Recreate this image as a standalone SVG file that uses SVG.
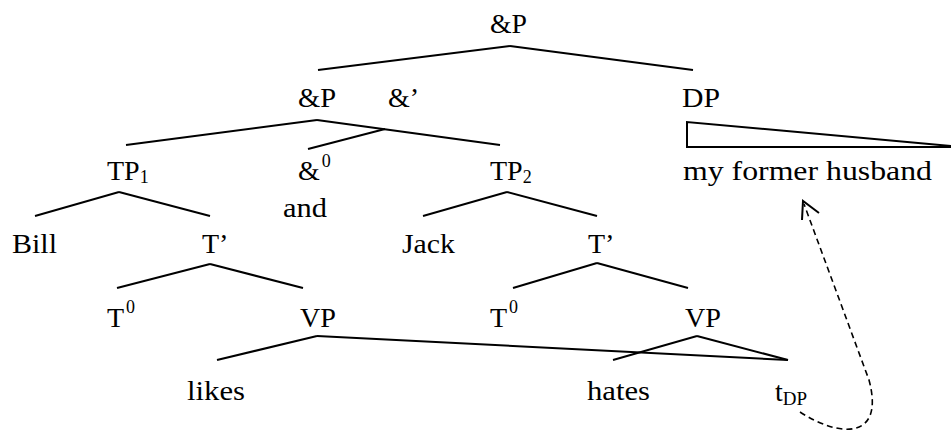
<svg xmlns="http://www.w3.org/2000/svg" width="951" height="433" viewBox="0 0 951 433">
<style>
.t text{font-family:'Liberation Serif','Times New Roman',Times,'Nimbus Roman','Nimbus Roman No9 L','Noto Serif','DejaVu Serif',FreeSerif,serif;font-size:28px;fill:#000}
.s{font-size:18px}
.e line,.e polyline,.e polygon{stroke:#000;stroke-width:2;fill:none}
.mv{stroke:#000;stroke-width:1.6;fill:none;stroke-dasharray:6,4}
.ah{stroke:#000;stroke-width:1.8;fill:none}
</style>
<rect width="951" height="433" fill="#fff"/>
<g id="edges" class="e">
<line x1="510" y1="46" x2="318" y2="70"/>
<line x1="510" y1="46" x2="693" y2="70"/>
<line x1="317" y1="120" x2="126" y2="145"/>
<line x1="317" y1="120" x2="500" y2="145"/>
<line x1="385" y1="129" x2="308" y2="149"/>
<line x1="119" y1="192" x2="35" y2="216"/>
<line x1="119" y1="192" x2="210" y2="216"/>
<line x1="507" y1="192" x2="423" y2="216"/>
<line x1="507" y1="192" x2="597" y2="216"/>
<line x1="210" y1="264" x2="117" y2="288"/>
<line x1="210" y1="264" x2="303" y2="288"/>
<line x1="597" y1="263" x2="513" y2="288"/>
<line x1="597" y1="263" x2="688" y2="288"/>
<line x1="317" y1="336" x2="217" y2="360"/>
<line x1="317" y1="336" x2="788" y2="360"/>
<line x1="697" y1="336" x2="613" y2="360"/>
<line x1="697" y1="336" x2="788" y2="360"/>
<polygon points="687,122 687,147 962,147"/>
<path class="mv" d="M800,412 C840,438 885,440 869,380 L804,204"/>
<polyline class="ah" points="802,220 803,201 819,213"/>
</g>
<g class="t">
<g id="n_andP_top"><text x="490" y="33" textLength="37" lengthAdjust="spacingAndGlyphs">&amp;P</text></g>
<g id="n_andP"><text x="298" y="107" textLength="38" lengthAdjust="spacingAndGlyphs">&amp;P</text></g>
<g id="n_andbar"><text x="388" y="107">&amp;’</text></g>
<g id="n_DP"><text x="682" y="107" textLength="38" lengthAdjust="spacingAndGlyphs">DP</text></g>
<g id="n_TP1"><text x="107" y="180">TP<tspan class="s" dy="3">1</tspan></text></g>
<g id="n_and0"><text x="298" y="180">&amp;<tspan class="s" dx="2" dy="-13">0</tspan></text><text x="283" y="217" textLength="44" lengthAdjust="spacingAndGlyphs">and</text></g>
<g id="n_TP2"><text x="490" y="180">TP<tspan class="s" dy="3">2</tspan></text></g>
<g id="n_mfh"><text x="683" y="180" textLength="249" lengthAdjust="spacingAndGlyphs">my former husband</text></g>
<g id="n_Bill"><text x="12" y="253" textLength="45" lengthAdjust="spacingAndGlyphs">Bill</text></g>
<g id="n_Tbar1"><text x="202" y="253">T’</text></g>
<g id="n_Jack"><text x="402" y="253" textLength="53" lengthAdjust="spacingAndGlyphs">Jack</text></g>
<g id="n_Tbar2"><text x="588" y="253">T’</text></g>
<g id="n_T01"><text x="107" y="327">T<tspan class="s" dx="2" dy="-14">0</tspan></text></g>
<g id="n_VP1"><text x="300" y="327" textLength="36" lengthAdjust="spacingAndGlyphs">VP</text></g>
<g id="n_T02"><text x="490" y="327">T<tspan class="s" dx="2" dy="-14">0</tspan></text></g>
<g id="n_VP2"><text x="685" y="327" textLength="36" lengthAdjust="spacingAndGlyphs">VP</text></g>
<g id="n_likes"><text x="187" y="400" textLength="58" lengthAdjust="spacingAndGlyphs">likes</text></g>
<g id="n_hates"><text x="587" y="400" textLength="63" lengthAdjust="spacingAndGlyphs">hates</text></g>
<g id="n_tDP"><text x="775" y="401">t<tspan style="font-size:19px" dy="4">DP</tspan></text></g>
</g>
</svg>
